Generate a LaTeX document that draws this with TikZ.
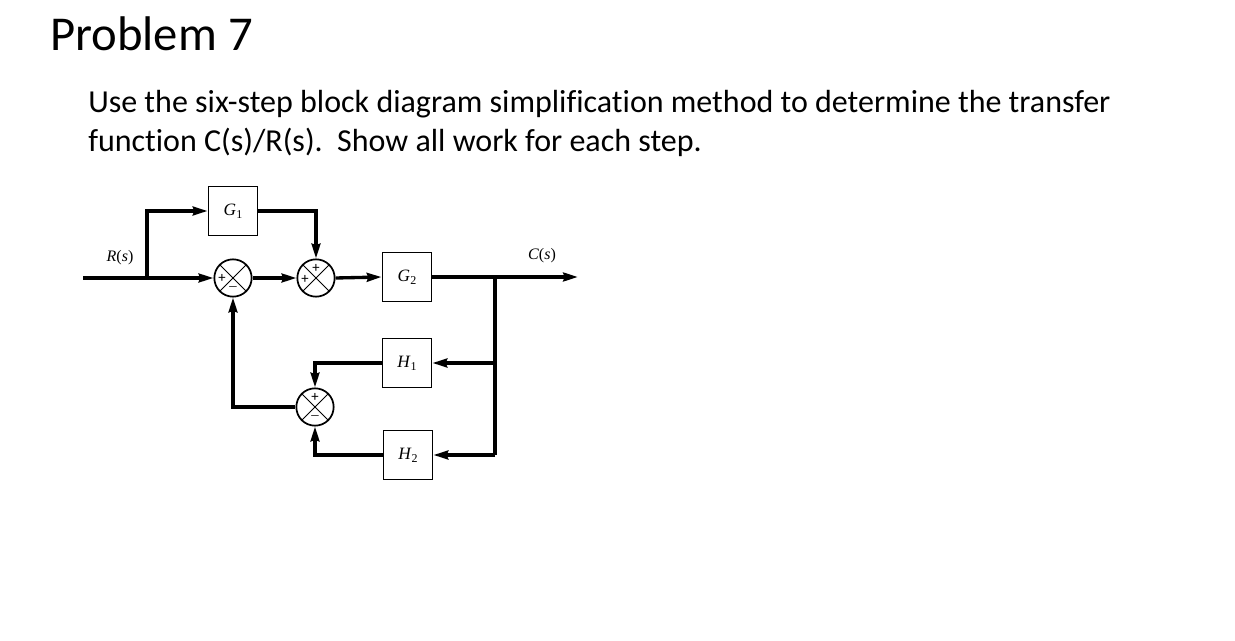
\documentclass[tikz,border=0pt]{standalone}
\usepackage{fontspec}
\setmainfont[Ligatures=CommonOff]{Carlito}
\newfontfamily\tms{Liberation Serif}
\usetikzlibrary{arrows.meta,calc}
\newcommand{\lab}[2]{{\tms\textit{#1}\raisebox{-0.35ex}{\fontsize{9}{10}\selectfont #2}}}
\begin{document}
\begin{tikzpicture}[x=0.75pt,y=-0.75pt,
  sig/.style={line width=2.5pt},
  arr/.style={sig,-{Stealth[length=11pt,width=6.5pt,inset=1pt]}},
  blk/.style={draw,line width=1.1pt,minimum width=37pt,minimum height=37pt,inner sep=0pt,font=\fontsize{13}{15}\selectfont},
  sumc/.style={draw,line width=1.3pt,circle,minimum size=28pt,inner sep=0pt},
  sgn/.style={font=\fontsize{11}{12}\selectfont,inner sep=0pt},
  lbl/.style={font=\fontsize{12}{14}\selectfont,inner sep=0pt}]
\useasboundingbox (0,0) rectangle (1235,641);
\node[anchor=base west,inner sep=0pt] (title) at (50,51) {\fontsize{36.5}{43}\selectfont Problem 7};
\node[anchor=base west,inner sep=0pt] (l1) at (88,113) {\fontsize{24}{29}\selectfont Use the six-step block diagram simplification method to determine the transfer};
\node[anchor=base west,inner sep=0pt] (l2) at (88,152) {\fontsize{24}{29}\selectfont function C(s)/R(s).\ \ Show all work for each step.};
% blocks
\node[blk] (G1) at (233,211) {\lab{G}{1}};
\node[blk] (G2) at (407,277) {\lab{G}{2}};
\node[blk] (H1) at (407,363) {\lab{H}{1}};
\node[blk] (H2) at (408,455) {\lab{H}{2}};
% summing junctions
\foreach \n/\x/\y in {S1/233/278,S2/316/278,S3/315/407}{
  \node[sumc] (\n) at (\x,\y) {};
  \draw[line width=0.7pt] (\n.north east) -- (\n.south west) (\n.north west) -- (\n.south east);
}
\node[sgn] (s1a) at ($(S1.center)+(-11,0)$) {+};
\node[sgn] (s1b) at ($(S1.center)+(0,11)$) {\tms –};
\node[sgn] (s2a) at ($(S2.center)+(-11,1)$) {+};
\node[sgn] (s2b) at ($(S2.center)+(0,-10)$) {+};
\node[sgn] (s3a) at ($(S3.center)+(0,-10)$) {+};
\node[sgn] (s3b) at ($(S3.center)+(0,11)$) {\tms –};
% coordinates
\coordinate (in) at (83,278);
\coordinate (b1) at (147,278);
\coordinate (b2) at (495,277);
\coordinate (out) at (578,277);
\node[lbl] (R) at (120,258) {{\tms\textit{R}(\textit{s})}};
\node[lbl] (C) at (542,256) {{\tms\textit{C}(\textit{s})}};
% connectors
\draw[sig] (in) -- (b1);
\draw[arr] (b1) -- (S1.west);
\draw[arr] (b1) |- (G1.west);
\draw[arr] (G1.east) -| (S2.north);
\draw[arr] (S1.east) -- (S2.west);
\draw[arr] (S2.east) -- (G2.west);
\draw[arr] (G2.east) -- (out);
\draw[sig] (b2) -- (b2 |- H2);
\draw[arr] (b2 |- H1) -- (H1.east);
\draw[arr] (b2 |- H2) -- (H2.east);
\draw[arr] (H1.west) -| (S3.north);
\draw[arr] (H2.west) -| (S3.south);
\draw[arr] (S3.west) -| (S1.south);
\end{tikzpicture}
\end{document}
